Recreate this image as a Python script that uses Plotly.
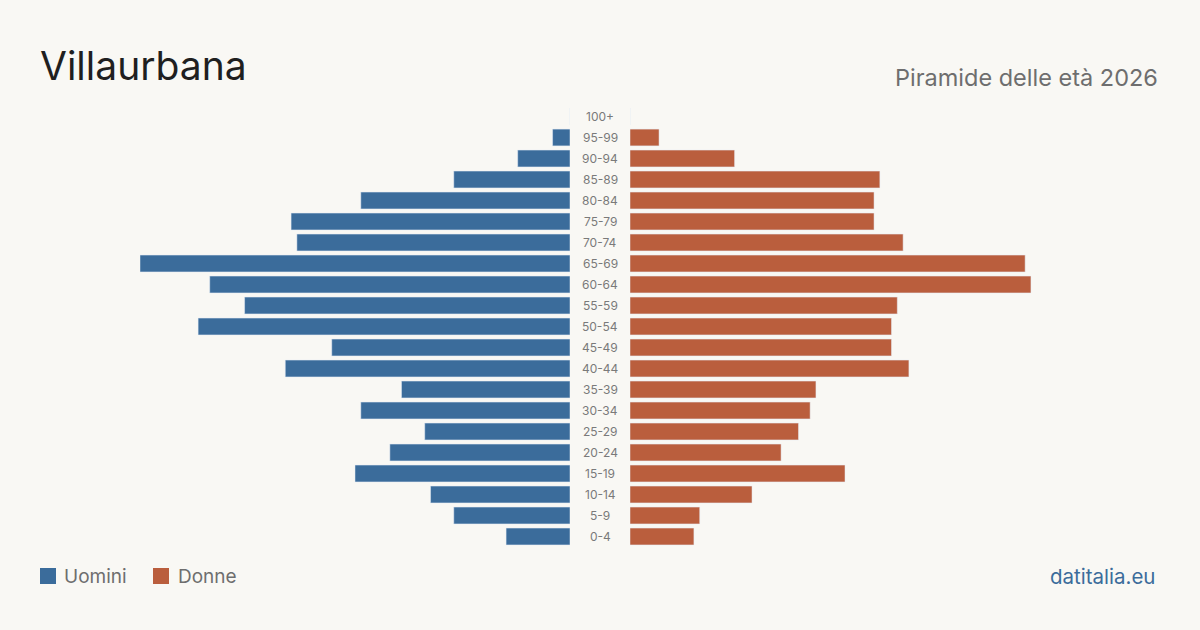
import plotly.graph_objects as go

age_groups = ["0-4", "5-9", "10-14", "15-19", "20-24", "25-29", "30-34", "35-39",
              "40-44", "45-49", "50-54", "55-59", "60-64", "65-69", "70-74",
              "75-79", "80-84", "85-89", "90-94", "95-99", "100+"]
uomini = [11, 20, 24, 37, 31, 25, 36, 29, 49, 41, 64, 56, 62, 74, 47, 48, 36, 20, 9, 3, 0]
donne = [11, 12, 21, 37, 26, 29, 31, 32, 48, 45, 45, 46, 69, 68, 47, 42, 42, 43, 18, 5, 0]

title_text = "Villaurbana"
subtitle_text = "Piramide delle età 2026"
source_text = "datitalia.eu"
legend_labels = ["Uomini", "Donne"]

BLUE = "#3b6c9b"
ORANGE = "#ba5e3d"
BG = "#f9f8f4"
FONT = "Inter"

W, H = 1200, 630
ML, MR, MT, MB = 140, 140, 106, 83
PW = W - ML - MR
PH = H - MT - MB


def px_x(x):
    return (x - ML) / PW


def px_y(y):
    return (H - MB - y) / PH


xmax = max(max(uomini), max(donne))

fig = go.Figure()
fig.add_trace(go.Bar(y=age_groups, x=uomini, orientation="h", marker_color=BLUE,
                     width=0.8, xaxis="x", yaxis="y", name="Uomini", showlegend=False))
fig.add_trace(go.Bar(y=age_groups, x=donne, orientation="h", marker_color=ORANGE,
                     width=0.8, xaxis="x2", yaxis="y2", name="Donne", showlegend=False))

annotations = []
for g in age_groups:
    annotations.append(dict(text=g, x=0.5, xref="paper", y=g, yref="y", showarrow=False,
                            xanchor="center", yanchor="middle",
                            font=dict(family=FONT, size=12, color="#7a7a7a")))

annotations.append(dict(text=title_text, x=px_x(38), xref="paper", y=px_y(66), yref="paper",
                        xanchor="left", yanchor="middle", showarrow=False,
                        font=dict(family=FONT, size=39, color="#1f1f1f")))
annotations.append(dict(text=subtitle_text, x=px_x(1160), xref="paper", y=px_y(77), yref="paper",
                        xanchor="right", yanchor="middle", showarrow=False,
                        font=dict(family=FONT, size=23.5, color="#6e6e6e")))
annotations.append(dict(text=source_text, x=px_x(1157), xref="paper", y=px_y(576), yref="paper",
                        xanchor="right", yanchor="middle", showarrow=False,
                        font=dict(family=FONT, size=20.5, color=BLUE)))
annotations.append(dict(text=legend_labels[0], x=px_x(62), xref="paper", y=px_y(576), yref="paper",
                        xanchor="left", yanchor="middle", showarrow=False,
                        font=dict(family=FONT, size=19, color="#6e6e6e")))
annotations.append(dict(text=legend_labels[1], x=px_x(176), xref="paper", y=px_y(576), yref="paper",
                        xanchor="left", yanchor="middle", showarrow=False,
                        font=dict(family=FONT, size=19, color="#6e6e6e")))

shapes = [
    dict(type="rect", xref="paper", yref="paper", x0=px_x(40), x1=px_x(56), y0=px_y(584), y1=px_y(568),
         fillcolor=BLUE, line=dict(width=0)),
    dict(type="rect", xref="paper", yref="paper", x0=px_x(153), x1=px_x(169), y0=px_y(584), y1=px_y(568),
         fillcolor=ORANGE, line=dict(width=0)),
]

fig.update_layout(
    width=W, height=H,
    margin=dict(l=ML, r=MR, t=MT, b=MB, pad=0),
    paper_bgcolor=BG, plot_bgcolor=BG,
    bargap=0.2,
    xaxis=dict(domain=[0, 430 / PW], range=[xmax, 0], visible=False, fixedrange=True),
    xaxis2=dict(domain=[490 / PW, 1], range=[0, xmax], visible=False, fixedrange=True),
    yaxis=dict(anchor="x", categoryorder="array", categoryarray=age_groups,
               range=[-0.5, len(age_groups) - 0.5], visible=False),
    yaxis2=dict(anchor="x2", matches="y", categoryorder="array", categoryarray=age_groups,
                visible=False),
    annotations=annotations,
    shapes=shapes,
    showlegend=False,
)

fig.write_html("out.html")
